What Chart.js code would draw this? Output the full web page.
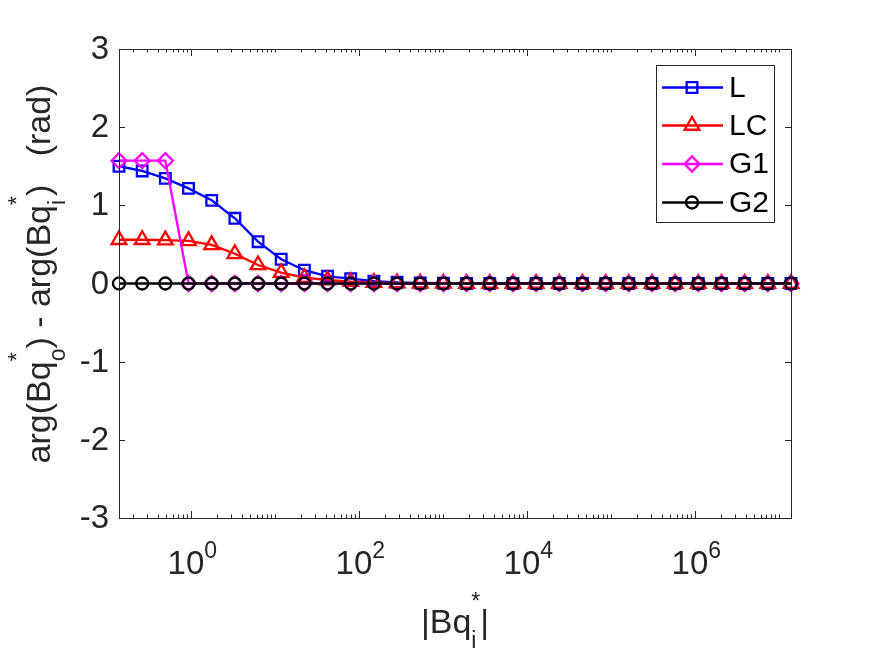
<!DOCTYPE html>
<html>
<head>
<meta charset="utf-8">
<script src="https://cdn.jsdelivr.net/npm/chart.js@4"></script>
<style>
  html, body { margin: 0; padding: 0; background: #fff; }
  canvas { display: block; }
</style>
</head>
<body>
<canvas id="phaseChart" width="875" height="656"></canvas>
<script>
// |Bq_i*| sample points (log spaced)
const bqIn = [0.1377, 0.2601, 0.4906, 0.9260, 1.747, 3.298, 6.225, 11.75, 22.18, 41.86,
  79.01, 149.1, 281.4, 531.1, 1002, 1892, 3570, 6739, 12720, 24010,
  45320, 85530, 161400, 304700, 575100, 1.085e6, 2.048e6, 3.865e6, 7.295e6, 1.377e7];

// phase difference per model (rad)
const phaseL = [1.50, 1.44, 1.345, 1.217, 1.064, 0.834, 0.535, 0.31, 0.17, 0.092,
  0.062, 0.03, 0.015, 0.007, 0.003, 0.001, 0, 0, 0, 0, 0, 0, 0, 0, 0, 0, 0, 0, 0, 0];
const phaseLC = [0.56, 0.56, 0.555, 0.545, 0.495, 0.38, 0.237, 0.138, 0.074, 0.045,
  0.023, 0.012, 0.006, 0.003, 0.001, 0, 0, 0, 0, 0, 0, 0, 0, 0, 0, 0, 0, 0, 0, 0];
const phaseG1 = [1.5708, 1.5708, 1.5708, 0, 0, 0, 0, 0, 0, 0, 0, 0, 0, 0, 0,
  0, 0, 0, 0, 0, 0, 0, 0, 0, 0, 0, 0, 0, 0, 0];
const phaseG2 = [0, 0, 0, 0, 0, 0, 0, 0, 0, 0, 0, 0, 0, 0, 0,
  0, 0, 0, 0, 0, 0, 0, 0, 0, 0, 0, 0, 0, 0, 0];

const seriesNames = ['L', 'LC', 'G1', 'G2'];
const yTicks = [-3, -2, -1, 0, 1, 2, 3];
const xMajorTicks = [1, 100, 1e4, 1e6];
const xTickExponents = ['0', '2', '4', '6'];

const FONT = '"Liberation Sans", Arial, Helvetica, sans-serif';
const INK = '#262626';
const TICK_PX = 33, TITLE_PX = 34, SCRIPT_PX = 23;

function pts(ys) {
  return bqIn.map((x, i) => ({ x: x, y: ys[i] }));
}

function series(label, ys, color, style, radius, order) {
  return {
    label: label,
    data: pts(ys),
    borderColor: color,
    borderWidth: 2.3,
    pointStyle: style,
    pointRadius: radius,
    pointBorderColor: color,
    pointBackgroundColor: 'rgba(0,0,0,0)',
    pointBorderWidth: 2.3,
    tension: 0,
    clip: false,
    order: order
  };
}

// text made of pieces: plain strings or {sub, sup} stacks
function richWidth(ctx, parts, big, small) {
  let w = 0;
  parts.forEach(p => {
    if (typeof p === 'string') {
      ctx.font = big + 'px ' + FONT;
      w += ctx.measureText(p).width;
    } else {
      ctx.font = small + 'px ' + FONT;
      w += Math.max(ctx.measureText(p.sub || '').width, ctx.measureText(p.sup || '').width);
    }
  });
  return w;
}

function drawRich(ctx, x, y, parts, big, small, supDy, subDy) {
  ctx.textAlign = 'left';
  ctx.textBaseline = 'alphabetic';
  let cx = x;
  parts.forEach(p => {
    if (typeof p === 'string') {
      ctx.font = big + 'px ' + FONT;
      ctx.fillText(p, cx, y);
      cx += ctx.measureText(p).width;
    } else {
      ctx.font = small + 'px ' + FONT;
      let w = 0;
      if (p.sup) { ctx.fillText(p.sup, cx, y + supDy); w = ctx.measureText(p.sup).width; }
      if (p.sub) { ctx.fillText(p.sub, cx, y + subDy); w = Math.max(w, ctx.measureText(p.sub).width); }
      cx += w;
    }
  });
}

const matlabFrame = {
  id: 'matlabFrame',
  afterDatasetsDraw(chart) {
    const ctx = chart.ctx;
    const a = chart.chartArea;
    const xs = chart.scales.x, ys = chart.scales.y;
    ctx.save();
    ctx.strokeStyle = INK;
    ctx.fillStyle = INK;
    ctx.lineWidth = 1;

    // box
    ctx.strokeRect(Math.round(a.left) + 0.5, Math.round(a.top) + 0.5,
      Math.round(a.right - a.left), Math.round(a.bottom - a.top));

    // y ticks, inward on both sides
    ctx.beginPath();
    yTicks.forEach(v => {
      const py = Math.round(ys.getPixelForValue(v)) + 0.5;
      ctx.moveTo(a.left, py); ctx.lineTo(a.left + 6, py);
      ctx.moveTo(a.right, py); ctx.lineTo(a.right - 6, py);
    });
    // x ticks: majors at even decades, minors at every k*10^n
    const lo = Math.floor(Math.log10(xs.min)), hi = Math.ceil(Math.log10(xs.max));
    for (let n = lo; n <= hi; n++) {
      for (let k = 1; k <= 9; k++) {
        const v = k * Math.pow(10, n);
        if (v < xs.min || v > xs.max) continue;
        const major = k === 1 && xMajorTicks.indexOf(v) >= 0;
        const len = major ? 7 : 3.5;
        const px = Math.round(xs.getPixelForValue(v)) + 0.5;
        ctx.moveTo(px, a.bottom); ctx.lineTo(px, a.bottom - len);
        ctx.moveTo(px, a.top); ctx.lineTo(px, a.top + len);
      }
    }
    ctx.stroke();

    // y tick labels
    ctx.font = TICK_PX + 'px ' + FONT;
    ctx.textAlign = 'right';
    ctx.textBaseline = 'middle';
    yTicks.forEach(v => {
      ctx.fillText(String(v), a.left - 10, ys.getPixelForValue(v) + 1);
    });

    // x tick labels 10^n
    xMajorTicks.forEach((v, i) => {
      const parts = ['10', { sup: xTickExponents[i] }];
      const w = richWidth(ctx, parts, TICK_PX, SCRIPT_PX);
      drawRich(ctx, xs.getPixelForValue(v) - w / 2 + 1, 574, parts, TICK_PX, SCRIPT_PX, -16, 0);
    });

    // x title
    const xt = ['|Bq', { sub: 'i', sup: '*' }, '|'];
    const xw = richWidth(ctx, xt, TITLE_PX, SCRIPT_PX);
    drawRich(ctx, (a.left + a.right) / 2 - xw / 2, 633, xt, TITLE_PX, SCRIPT_PX, -24, 15);

    // y title, rotated
    const yt = ['arg(Bq', { sub: 'o', sup: '*' }, ') - arg(Bq', { sub: 'i', sup: '*' }, ')   (rad)'];
    const yw = richWidth(ctx, yt, TITLE_PX, SCRIPT_PX);
    ctx.save();
    ctx.translate(50, 274);
    ctx.rotate(-Math.PI / 2);
    drawRich(ctx, -yw / 2, 0, yt, TITLE_PX, SCRIPT_PX, -25, 15);
    ctx.restore();

    // legend box
    const lx = 656, ly = 65, lw = 118, lh = 157;
    ctx.fillStyle = '#fff';
    ctx.fillRect(lx, ly, lw, lh);
    ctx.strokeStyle = INK;
    ctx.lineWidth = 1;
    ctx.strokeRect(lx + 0.5, ly + 0.5, lw, lh);
    const rowY = [87.5, 125.5, 164, 202.5];
    chart.data.datasets.forEach((ds, i) => {
      const y = rowY[i];
      ctx.strokeStyle = ds.borderColor;
      ctx.lineWidth = 2.3;
      ctx.beginPath();
      ctx.moveTo(662, y); ctx.lineTo(723, y);
      ctx.stroke();
      ctx.fillStyle = 'rgba(0,0,0,0)';
      Chart.helpers.drawPoint(ctx, { pointStyle: ds.pointStyle, radius: ds.pointRadius, borderWidth: 2.3, rotation: 0 }, 692, y);
      ctx.fillStyle = '#000';
      ctx.font = '30px ' + FONT;
      ctx.textAlign = 'left';
      ctx.textBaseline = 'middle';
      ctx.fillText(ds.label, 729, y + 1);
    });
    ctx.restore();
  }
};

const ctx = document.getElementById('phaseChart').getContext('2d');
const phaseChart = new Chart(ctx, {
  type: 'line',
  data: {
    datasets: [
      series(seriesNames[0], phaseL, '#0000ff', 'rect', 7.5, 4),
      series(seriesNames[1], phaseLC, '#ff0000', 'triangle', 8.5, 3),
      series(seriesNames[2], phaseG1, '#ff00ff', 'rectRot', 7.5, 2),
      series(seriesNames[3], phaseG2, '#000000', 'circle', 6, 1)
    ]
  },
  options: {
    responsive: false,
    animation: false,
    devicePixelRatio: 1,
    layout: { padding: { left: 119, right: 84, top: 49, bottom: 138 } },
    scales: {
      x: { type: 'logarithmic', min: bqIn[0], max: bqIn[bqIn.length - 1], display: false },
      y: { type: 'linear', min: -3, max: 3, display: false }
    },
    plugins: {
      legend: { display: false },
      tooltip: { enabled: false }
    }
  },
  plugins: [matlabFrame]
});
</script>
</body>
</html>
